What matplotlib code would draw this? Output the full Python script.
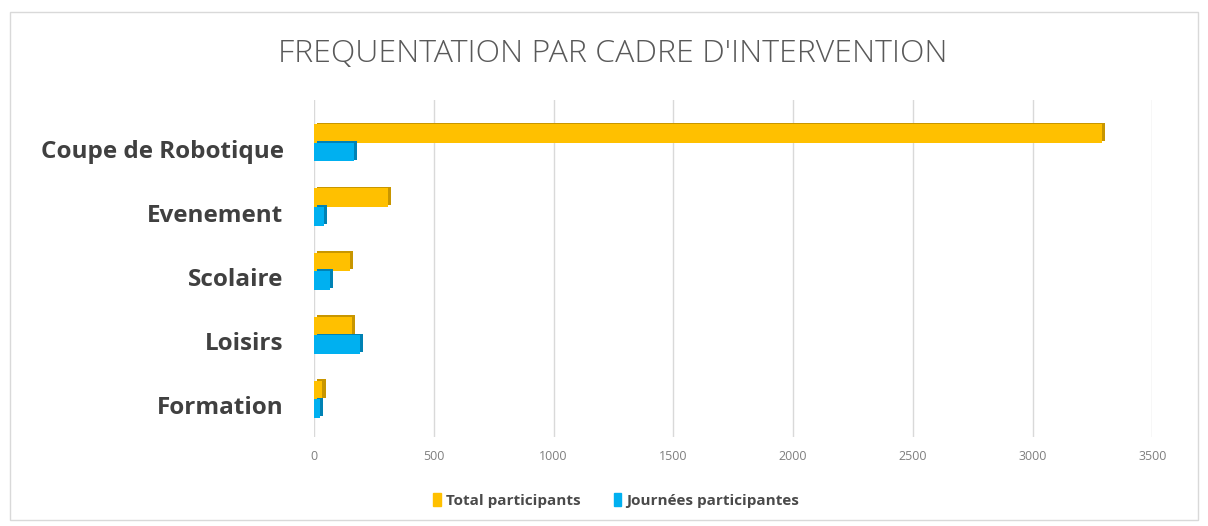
import matplotlib
matplotlib.use("Agg")
import matplotlib.pyplot as plt
import matplotlib.patheffects as pe
import matplotlib.transforms as mtransforms
from matplotlib.patches import Rectangle, Patch
import numpy as np

# data
categories = ["Coupe de Robotique", "Evenement", "Scolaire", "Loisirs", "Formation"]
total_participants = [3290, 310, 150, 160, 35]
journees_participantes = [165, 42, 68, 190, 25]
xticks = [0, 500, 1000, 1500, 2000, 2500, 3000, 3500]

gold = "#FFC000"
gold_dark = "#C89600"
blue = "#00B0F0"
blue_dark = "#0082B4"

plt.rcParams["font.family"] = ["Open Sans", "DejaVu Sans"]

fig = plt.figure(figsize=(12.08, 5.26), dpi=100)
ax = fig.add_axes([0.26, 0.17, 0.694, 0.64])

y = np.arange(len(categories))
h = 0.29

b1 = ax.barh(y - h / 2, total_participants, height=h, color=gold, zorder=3)
b2 = ax.barh(y + h / 2, journees_participantes, height=h, color=blue, zorder=3)

# fake 3d depth with a small offset shadow
for bars, shade in ((b1, gold_dark), (b2, blue_dark)):
    for r in bars:
        r.set_path_effects([pe.SimplePatchShadow(offset=(2.2, 1.2), shadow_rgbFace=shade, alpha=1),
                            pe.Normal()])

ax.set_ylim(4.58, -0.67)
ax.set_xlim(0, 3500)
ax.set_yticks(y)
ax.set_yticklabels(categories, fontsize=17.5, fontweight="bold", color="#404040")
ax.set_xticks(xticks)
ax.set_xticklabels([str(t) for t in xticks], fontsize=9, color="#7f7f7f")
ax.tick_params(axis="both", length=0)
ax.tick_params(axis="y", pad=22)
ax.tick_params(axis="x", pad=10)
ax.grid(axis="x", color="#d9d9d9", linewidth=1, zorder=0)
for s in ax.spines.values():
    s.set_visible(False)

# labels sit a bit lower than the bar pair centre
shift = mtransforms.ScaledTranslation(0, -0.06, fig.dpi_scale_trans)
for lab in ax.get_yticklabels():
    lab.set_transform(lab.get_transform() + shift)

fig.text(0.507, 0.898, "FREQUENTATION PAR CADRE D'INTERVENTION", ha="center", va="center",
         fontsize=23, color="#595959", fontweight="light")

handles = [Patch(color=gold), Patch(color=blue)]
fig.legend(handles, ["Total participants", "Journées participantes"], loc="center",
           bbox_to_anchor=(0.51, 0.048), ncol=2, frameon=False,
           prop={"weight": "bold", "size": 11}, handlelength=0.5, handleheight=0.9,
           handletextpad=0.3, columnspacing=2.2, labelcolor="#4a4a4a")

fig.patches.append(Rectangle((0.008, 0.012), 0.984, 0.966, transform=fig.transFigure,
                             fill=False, edgecolor="#d9d9d9", linewidth=1))

fig.savefig("out.png", dpi=100)
